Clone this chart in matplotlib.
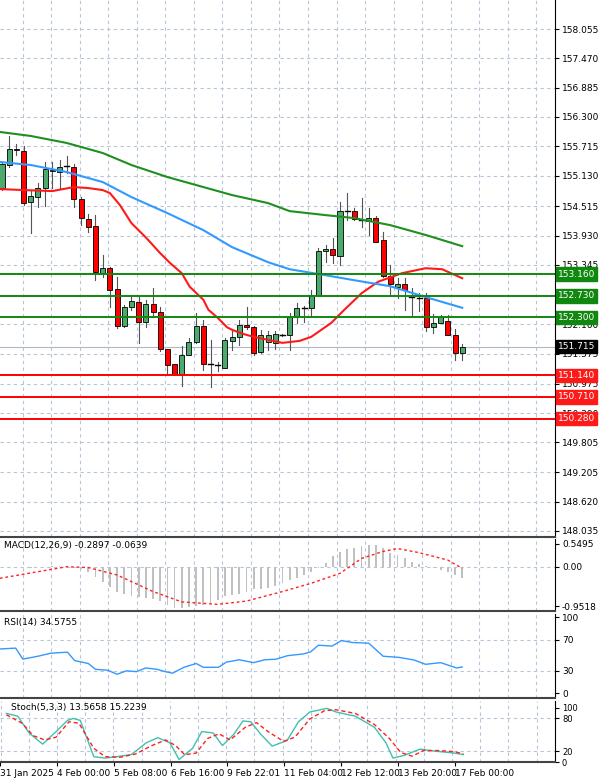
import matplotlib
matplotlib.use("Agg")
import matplotlib.pyplot as plt
from matplotlib.patches import Rectangle

# ---------------- data ----------------
opens  = [154.88,155.34,155.65,155.62,154.61,154.71,154.88,155.22,155.21,155.33,155.31,154.66,154.26,154.12,153.19,153.28,152.86,152.12,152.50,152.61,152.21,152.57,152.40,151.66,151.36,151.15,151.55,151.80,152.13,151.37,151.35,151.28,151.83,151.90,152.15,152.10,151.60,151.80,151.79,151.95,151.95,152.31,152.49,152.48,152.75,153.62,153.66,153.52,154.43,154.42,154.24,154.23,154.28,153.84,153.12,152.91,152.96,152.71,152.68,152.68,152.11,152.18,152.23,151.95,151.59]
closes = [155.37,155.65,155.63,154.59,154.72,154.88,155.26,155.25,155.31,155.33,154.66,154.28,154.11,153.21,153.28,152.85,152.12,152.50,152.63,152.21,152.57,152.41,151.66,151.35,151.15,151.55,151.80,152.13,151.37,151.36,151.36,151.85,151.90,152.15,152.10,151.58,151.95,151.95,151.97,151.95,152.31,152.48,152.49,152.75,153.63,153.66,153.54,154.43,154.43,154.26,154.24,154.28,153.81,153.12,152.96,152.96,152.85,152.71,152.68,152.11,152.18,152.30,151.95,151.59,151.70]
highs  = [155.40,155.91,155.75,155.72,154.85,154.98,155.41,155.41,155.44,155.52,155.36,154.70,154.36,154.34,153.55,153.31,153.11,152.55,152.71,152.71,152.65,152.88,152.51,151.66,151.36,151.72,151.88,152.39,152.25,151.84,151.40,151.88,152.06,152.25,152.51,152.13,152.04,152.02,152.02,151.97,152.38,152.58,152.53,152.85,153.68,153.74,153.88,154.61,154.79,154.48,154.68,154.48,154.32,154.01,153.34,153.08,153.08,152.88,152.78,152.78,152.37,152.35,152.35,152.06,151.76]
lows   = [154.85,155.30,155.55,154.55,153.99,154.50,154.52,154.88,154.88,155.19,154.51,154.14,154.01,153.05,153.11,152.51,152.08,152.10,152.45,151.79,152.10,152.31,151.62,151.18,151.15,150.93,151.55,151.79,151.25,150.90,151.22,151.28,151.65,151.75,152.06,151.55,151.58,151.65,151.66,151.93,151.65,152.18,152.21,152.31,152.75,153.41,153.39,153.34,154.24,154.24,154.11,153.94,153.80,153.11,152.75,152.68,152.45,152.35,152.43,152.03,151.99,152.18,151.95,151.45,151.45]

ma_fast_idx = [-0.3,3,7,10,12,14,15,16.4,18,20.1,22,23.4,25,26.1,28,28.7,30,31.3,32,33.5,35,37,39,41.4,43,45.8,47.6,50,52.3,55.6,58.9,61.2,64]
ma_fast     = [154.86,154.84,154.82,154.90,154.88,154.84,154.78,154.54,154.18,153.88,153.58,153.38,153.18,152.91,152.65,152.45,152.29,152.10,152.05,151.97,151.91,151.85,151.79,151.83,151.91,152.19,152.45,152.78,153.01,153.18,153.28,153.26,153.08]
ma_mid_idx  = [-0.3,4,9,14,18,23,28,32,37,40,45,49,54,59,64]
ma_mid      = [155.40,155.34,155.20,155.00,154.70,154.38,154.04,153.70,153.40,153.26,153.14,153.04,152.92,152.70,152.49]
ma_slow     = [156.00,155.92,155.78,155.58,155.34,155.10,154.90,154.74,154.58,154.42,154.34,154.28,154.14,153.94,153.72]

res_levels = [153.160,152.730,152.300]
sup_levels = [151.140,150.710,150.280]
last_price = 151.715
price_ticks = [158.055,157.470,156.885,156.300,155.715,155.130,154.515,153.930,153.345,152.160,151.575,150.975,150.390,149.805,149.205,148.620,148.035]

macd_hist = [-0.03,-0.02,0.0,-0.01,-0.02,-0.01,0.0,0.01,0.02,0.02,0.0,-0.05,-0.12,-0.25,-0.36,-0.5,-0.6,-0.65,-0.71,-0.73,-0.75,-0.79,-0.83,-0.92,-0.99,-0.99,-0.97,-0.95,-0.93,-0.91,-0.8,-0.7,-0.68,-0.66,-0.6,-0.55,-0.53,-0.52,-0.46,-0.4,-0.33,-0.27,-0.2,-0.12,-0.02,0.1,0.25,0.36,0.42,0.45,0.5,0.52,0.53,0.45,0.34,0.28,0.21,0.12,0.06,0.02,-0.02,-0.08,-0.12,-0.2,-0.28]
macd_sig_idx = [-0.3,5,9,12,16,21,25,30,34,39,43,47,50,53,55,58,62,64]
macd_sig     = [-0.28,-0.12,0.0,-0.02,-0.2,-0.6,-0.85,-0.91,-0.83,-0.6,-0.4,-0.16,0.2,0.37,0.44,0.34,0.16,-0.04]

rsi_idx = [-0.3,1.9,2.9,5.0,6.7,7.7,9.1,10.1,12,13,14.7,16,17.3,18.7,20,21.6,22.7,23.7,25.3,27,28,30.1,31.2,33,35,36.5,38.1,39.7,41.9,42.9,44,45.9,47.2,48.8,51,53,55.2,57.3,58.9,61,63.2,64]
rsi     = [58.2,59.3,44.9,48.7,52.5,53.2,54.0,43.0,39.2,31.5,30.4,25.1,29.6,28.5,33.4,31.5,28.5,26.5,34.2,39.2,34.2,34.2,41.0,44.0,40.3,44.0,44.8,49.4,51.7,54.3,63.1,62.0,69.2,66.6,65.8,48.7,47.2,43.8,38.1,40.3,33.4,34.6]

k_idx = [-0.3,1.3,2.9,4.8,6.7,8.3,9.1,10.1,12,13.6,15.2,17.3,19.4,21,22.7,24,25.9,27.2,28.8,30.1,31.7,33,34.1,35.5,37.1,39.2,40.8,42.4,44.8,46.1,48.8,51.5,53.1,54.1,55.7,57.9,60,62.7,64]
k_val = [89.2,84.1,53.3,32.8,55.9,76.4,80,76.4,9.7,7.2,9.7,13.8,35.4,44.6,35.4,4.6,25.1,55.9,53.3,30.2,50.8,75.4,73.8,50.8,29.2,39.5,73.8,91.8,98.5,91.8,84.1,63.6,35.4,7.2,12.3,23.6,20,16.4,13.6]
d_idx = [-0.3,1.9,3.5,5.1,6.7,8.5,9.9,12,13.6,15.7,17.9,20,22.1,23.5,24.8,26.4,28,29.6,31.2,33.3,34.9,36.5,38.7,40.3,42.4,44.5,46.1,48.8,51.5,53.6,55.2,56.8,58.4,60.5,62.7,64]
d_val = [86.7,71.3,48.2,40.5,45.6,73.8,71.3,25.1,9.7,8.7,14.8,29.2,40.5,30.2,13.3,16.4,43.1,51.8,40.5,63.6,72.3,55.9,37.9,45.6,79,94.4,95.9,89.2,68.7,43.1,17.4,10.7,21,21,19,15.2]

date_labels = ["31 Jan 2025","4 Feb 00:00","5 Feb 08:00","6 Feb 16:00","9 Feb 22:01","11 Feb 04:00","12 Feb 12:00","13 Feb 20:00","17 Feb 00:00"]

# ---------------- figure ----------------
W, H = 600, 784
fig = plt.figure(figsize=(6, 7.84), dpi=100)
def ax_at(top, bottom):
    return fig.add_axes([0, 1 - bottom / H, 555 / W, (bottom - top) / H])
ax = ax_at(0, 537)
axm = ax_at(539, 611)
axr = ax_at(614, 698)
axs = ax_at(701, 762)

XL = (-0.28, 76.9)
grid_x = [2.85 + 3.97 * k for k in range(-1, 20)]
gkw = dict(color="#b8c4d8", lw=0.8, ls=(0, (3, 3)))
FS = 6.5

for a in (ax, axm, axr, axs):
    a.set_xlim(*XL)
    a.set_xticks([])
    for gx in grid_x:
        a.axvline(gx, zorder=0, **gkw)
    a.yaxis.tick_right()
    a.tick_params(axis="y", labelsize=FS, length=3, pad=2, direction="out")
    for s in ("left", "top"):
        a.spines[s].set_visible(False)
    a.spines["right"].set_color("black")
    a.spines["bottom"].set_color("#444444")
    a.spines["bottom"].set_linewidth(1.5)

ax.set_ylim(147.915, 158.634)
ax.set_yticks(price_ticks)
ax.set_yticklabels([f"{t:.3f}" for t in price_ticks])
for t in price_ticks:
    ax.axhline(t, zorder=0, **gkw)

for i in range(len(opens)):
    o, c, h, l = opens[i], closes[i], highs[i], lows[i]
    ax.plot([i, i], [l, h], color="#555555", lw=0.8, zorder=3)
    col = "#4caa6c" if c >= o else "#ff0000"
    bot, top = min(o, c), max(o, c)
    if top - bot < 0.02:
        ax.plot([i - 0.35, i + 0.35], [o, o], color="black", lw=1, zorder=4)
    else:
        ax.add_patch(Rectangle((i - 0.35, bot), 0.7, top - bot, facecolor=col,
                               edgecolor="black", lw=0.6, zorder=4))

ax.plot(ma_fast_idx, ma_fast, color="#ff1a1a", lw=1.5, zorder=5)
ax.plot(ma_mid_idx, ma_mid, color="#3399ff", lw=1.5, zorder=5)
ax.plot(ma_mid_idx, ma_slow, color="#1f8f1f", lw=1.5, zorder=5)

ax.axhline(last_price, color="#b0b8c8", lw=0.8, zorder=2)
bb = dict(boxstyle="square,pad=0.25")
for lv in res_levels:
    ax.axhline(lv, color="#108810", lw=1.4, zorder=6)
    ax.text(1.005, lv, f"{lv:.3f}", transform=ax.get_yaxis_transform(), fontsize=FS,
            color="white", va="center", ha="left", bbox=dict(bb, fc="#108810", ec="#108810"), zorder=7, clip_on=False)
for lv in sup_levels:
    ax.axhline(lv, color="#ff0000", lw=1.4, zorder=6)
    ax.text(1.005, lv, f"{lv:.3f}", transform=ax.get_yaxis_transform(), fontsize=FS,
            color="white", va="center", ha="left", bbox=dict(bb, fc="#ff1a1a", ec="#ff1a1a"), zorder=7, clip_on=False)
ax.text(1.005, last_price, f"{last_price:.3f}", transform=ax.get_yaxis_transform(), fontsize=FS,
        color="white", va="center", ha="left", bbox=dict(bb, fc="black", ec="black"), zorder=7, clip_on=False)

axm.set_ylim(-1.07, 0.67)
axm.bar(range(len(macd_hist)), macd_hist, width=0.25, color="#c0c0c0", zorder=2)
axm.plot(macd_sig_idx, macd_sig, color="#ff2020", lw=1, ls=(0, (2, 2)), zorder=3)
axm.set_yticks([0.5495, 0.0, -0.9518])
axm.set_yticklabels(["0.5495", "0.00", "-0.9518"])
axm.axhline(0, zorder=0, **gkw)
axm.text(0.3, 0.63, "MACD(12,26,9) -0.2897 -0.0639", fontsize=FS, va="top", ha="left")

axr.set_ylim(-6, 104)
axr.plot(rsi_idx, rsi, color="#3399ff", lw=1)
axr.set_yticks([100, 70, 30, 0])
for t in (70, 30):
    axr.axhline(t, zorder=0, **gkw)
axr.text(0.3, 99, "RSI(14) 34.5755", fontsize=FS, va="top", ha="left")

axs.set_ylim(0, 112)
axs.plot(k_idx, k_val, color="#40c0b0", lw=1)
axs.plot(d_idx, d_val, color="#ff2020", lw=1, ls=(0, (3, 2)))
axs.set_yticks([100, 80, 20, 0])
axs.set_yticklabels(["100", "80", "20", "0"], fontsize=6)
for t in (80, 20):
    axs.axhline(t, zorder=0, **gkw)
axs.text(0.3, 109, "Stoch(5,3,3) 13.5658 15.2239", fontsize=FS, va="top", ha="left")

date_pos = [6.8 + 8.0 * (k - 1) for k in range(len(date_labels))]
axs.set_xticks(date_pos)
axs.set_xticklabels(date_labels, fontsize=FS, ha="left")
axs.tick_params(axis="x", length=3, pad=2)

fig.savefig("out.png", dpi=100)
